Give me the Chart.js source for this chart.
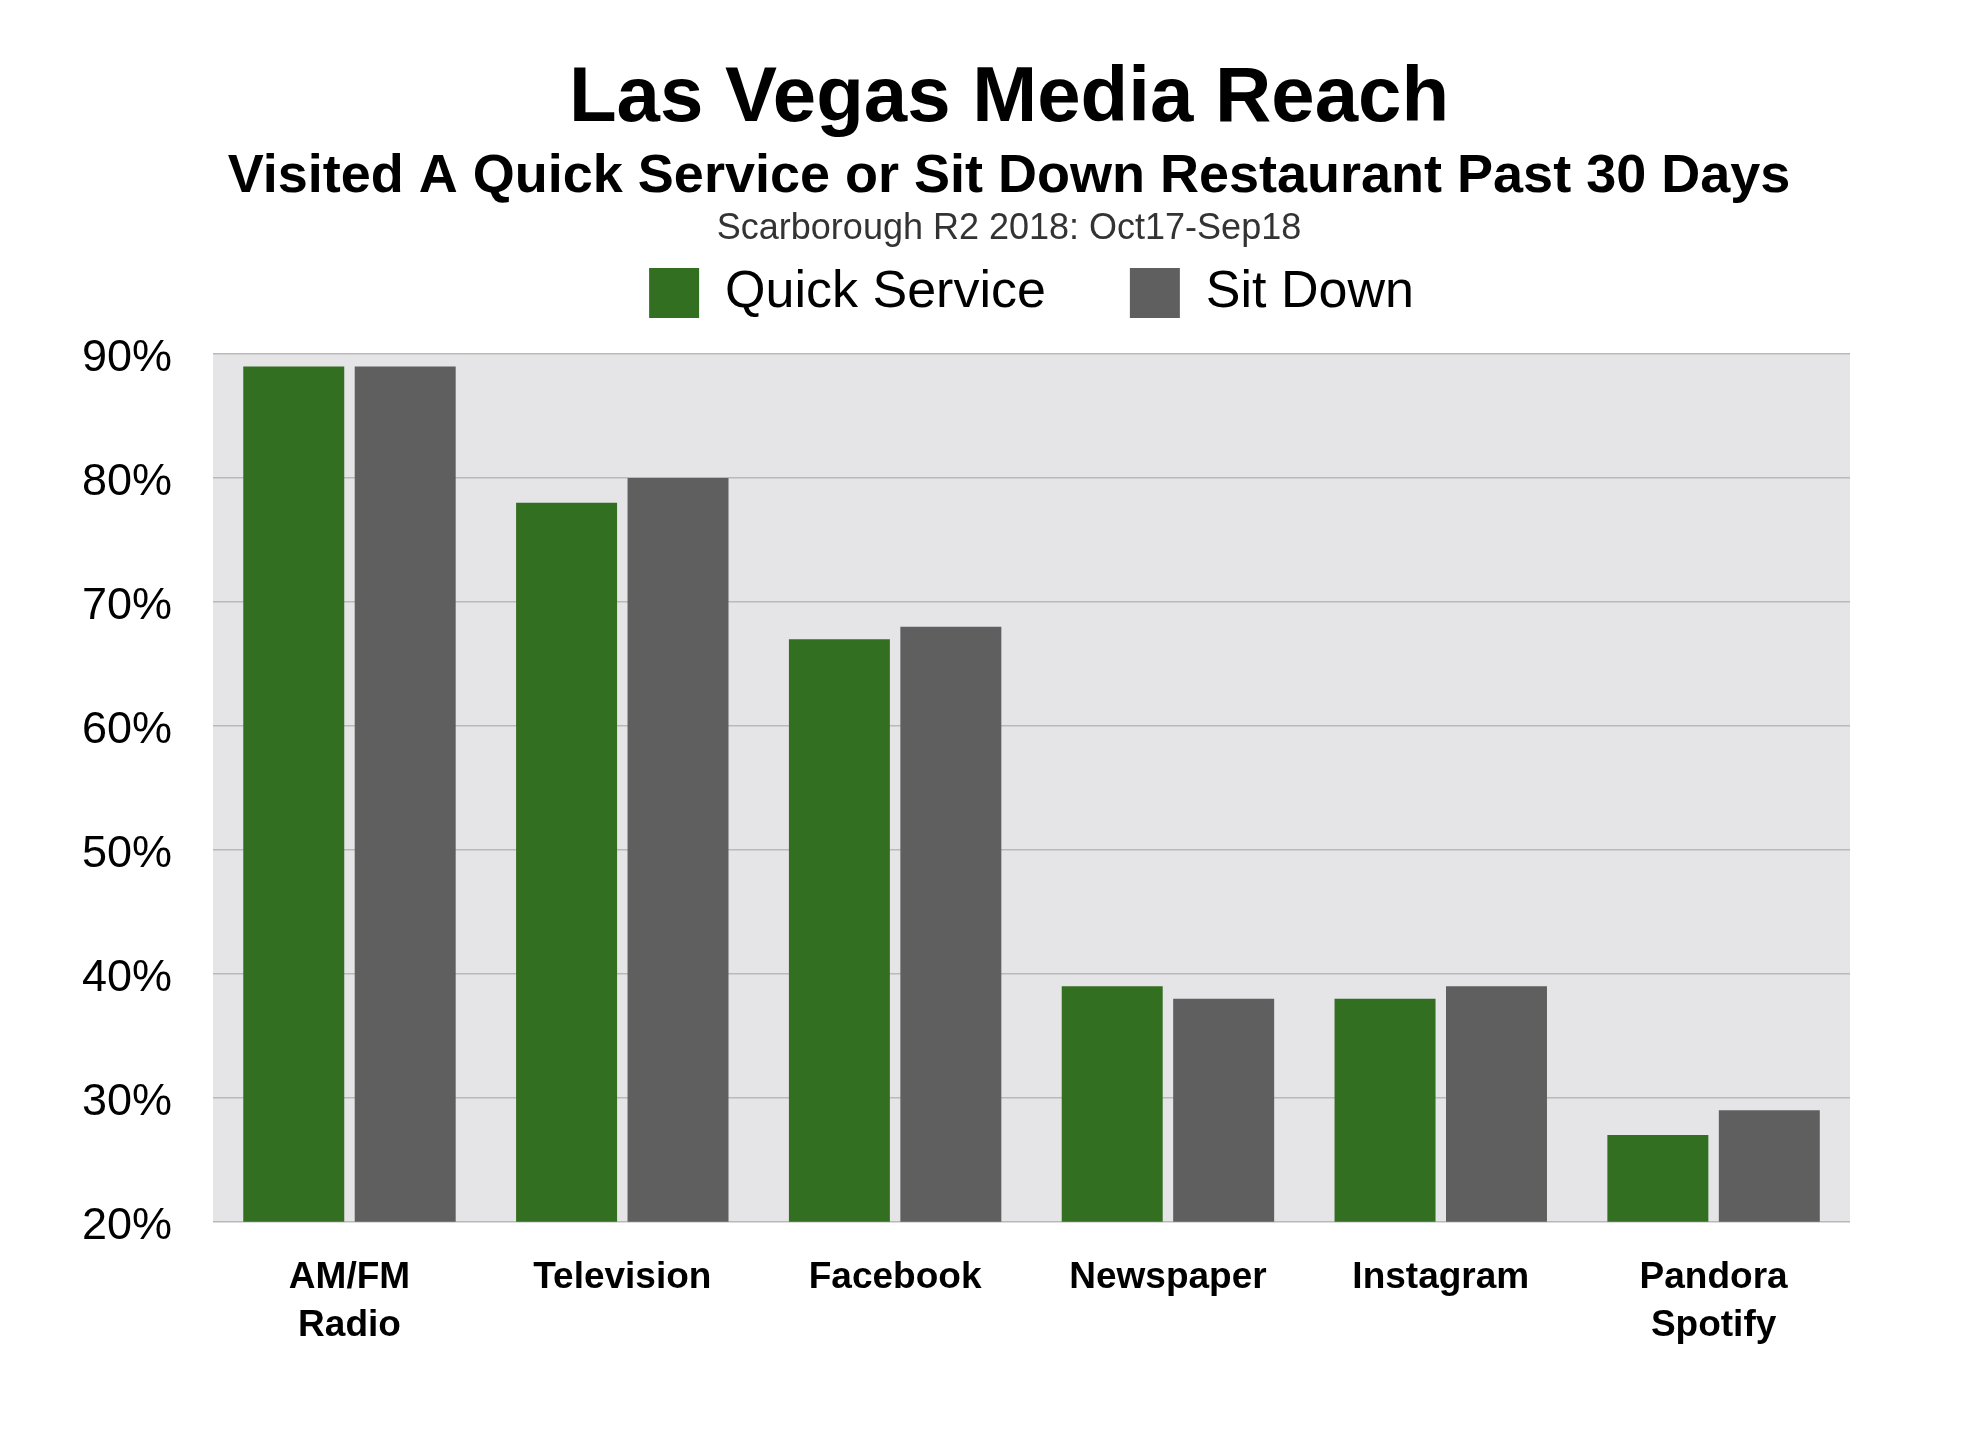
<!DOCTYPE html>
<html><head><meta charset="utf-8">
<script src="https://cdn.jsdelivr.net/npm/chart.js@4.4.1/dist/chart.umd.min.js"></script>
<style>html,body{margin:0;padding:0;background:#fff;}</style>
</head><body>
<canvas id="c" width="1980" height="1434"></canvas>
<script>
const categories = [["AM/FM", "Radio"], "Television", "Facebook", "Newspaper", "Instagram", ["Pandora", "Spotify"]];
const seriesNames = ["Quick Service", "Sit Down"];
const quickService = [89, 78, 67, 39, 38, 27];
const sitDown = [89, 80, 68, 38, 39, 29];
const yMin = 20, yMax = 90, yStep = 10;
const titleText = "Las Vegas Media Reach";
const subtitleText = "Visited A Quick Service or Sit Down Restaurant Past 30 Days";
const sourceText = "Scarborough R2 2018: Oct17-Sep18";

const FONT = "'Liberation Sans', Arial, Helvetica, sans-serif";

const headerPlugin = {
  id: 'header',
  beforeInit(chart) {
    const leg = chart.legend;
    if (leg) {
      const origFit = leg.fit;
      leg.fit = function () { origFit.call(this); this.height += 25; };
    }
  },
  beforeDraw(chart) {
    const { ctx, chartArea: a } = chart;
    ctx.save();
    ctx.fillStyle = '#e5e4e7';
    ctx.fillRect(a.left, a.top, a.right - a.left, a.bottom - a.top);
    ctx.restore();
  },
  afterDraw(chart) {
    const ctx = chart.ctx;
    ctx.save();
    ctx.textAlign = 'center';
    ctx.textBaseline = 'alphabetic';
    ctx.fillStyle = '#000';
    ctx.font = "bold 78px " + FONT;
    ctx.fillText(titleText, 1009, 121);
    ctx.font = "bold 54px " + FONT;
    ctx.fillText(subtitleText, 1009, 192);
    ctx.fillStyle = '#333';
    ctx.font = "36px " + FONT;
    ctx.fillText(sourceText, 1009, 239);
    ctx.restore();
  }
};

new Chart(document.getElementById('c'), {
  type: 'bar',
  data: {
    labels: categories,
    datasets: [
      { label: seriesNames[0], data: quickService, backgroundColor: '#336f20', borderWidth: 0,
        categoryPercentage: 0.817, barPercentage: 0.906 },
      { label: seriesNames[1], data: sitDown, backgroundColor: '#5f5f5f', borderWidth: 0,
        categoryPercentage: 0.817, barPercentage: 0.906 }
    ]
  },
  options: {
    responsive: false,
    devicePixelRatio: 1,
    animation: false,
    layout: { padding: { top: 183, left: 41, right: 130, bottom: 52 } },
    plugins: {
      title: { display: false },
      tooltip: { enabled: false },
      legend: {
        display: true,
        position: 'top',
        fullSize: false,
        labels: {
          boxWidth: 50, boxHeight: 50, padding: 84, color: '#000',
          font: { family: FONT, size: 52 }
        }
      }
    },
    scales: {
      x: {
        grid: { display: false, drawTicks: false },
        border: { display: false },
        ticks: {
          color: '#000', padding: 32, maxRotation: 0, autoSkip: false,
          font: { family: FONT, size: 37, weight: 'bold', lineHeight: 1.3 }
        }
      },
      y: {
        min: yMin, max: yMax,
        grid: { color: '#b9b9b9', lineWidth: 1.5, drawTicks: false },
        border: { display: false },
        ticks: {
          stepSize: yStep, color: '#000', padding: 41, labelOffset: 5,
          font: { family: FONT, size: 45 },
          callback: v => v + '%'
        }
      }
    }
  },
  plugins: [headerPlugin]
});
</script>
</body></html>
